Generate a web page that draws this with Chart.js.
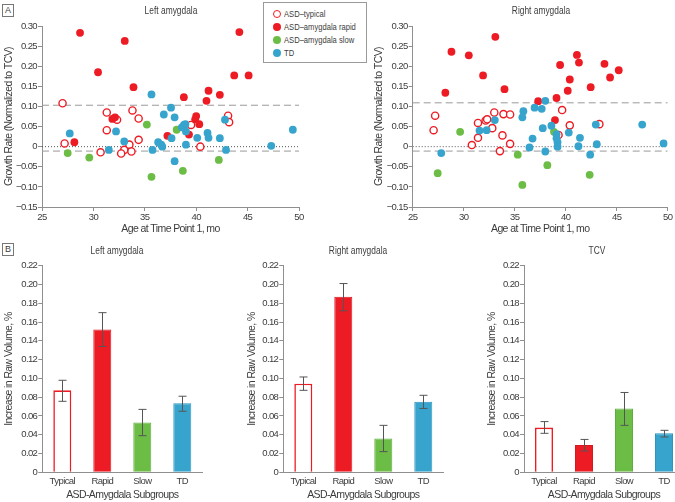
<!DOCTYPE html>
<html>
<head>
<meta charset="utf-8">
<script src="https://cdn.jsdelivr.net/npm/chart.js@4.4.0/dist/chart.umd.min.js"></script>
<style>
    body {
        margin: 0;
        width: 675px;
        height: 502px;
        overflow: hidden;
        position: relative;
        background: #fff;
        font-family: "Liberation Sans", Arial, sans-serif;
        color: #3c3c3c;
    }
    canvas { position: absolute; }
    .panel-tag {
        position: absolute;
        width: 10px;
        height: 11px;
        border: 1px solid #777;
        font-size: 9px;
        line-height: 11px;
        text-align: center;
        background: #fff;
        z-index: 2;
    }
    .title {
        position: absolute;
        font-size: 10.5px;
        transform: translate(-50%, -50%) scaleX(0.8);
        white-space: nowrap;
        z-index: 2;
    }
    #legend {
        position: absolute;
        left: 263px;
        top: 2px;
        width: 102px;
        height: 59px;
        border: 1px solid #9a9a9a;
        background: #fff;
        z-index: 2;
    }
    .leg-item {
        position: absolute;
        left: 9px;
        font-size: 9.5px;
        line-height: 10px;
        white-space: nowrap;
    }
    .leg-dot {
        position: absolute;
        left: 0;
        top: 1px;
        width: 8px;
        height: 8px;
        border-radius: 50%;
        box-sizing: border-box;
    }
    .leg-text {
        position: absolute;
        left: 11px;
        top: 0;
        transform: scaleX(0.8);
        transform-origin: left center;
    }
</style>
</head>
<body>

<div class="panel-tag" style="left:2px; top:4px;">A</div>
<div class="panel-tag" style="left:2px; top:243px;">B</div>

<div class="title" style="left:171px; top:10px;">Left amygdala</div>
<div class="title" style="left:541px; top:10px;">Right amygdala</div>
<div class="title" style="left:117px; top:250px;">Left amygdala</div>
<div class="title" style="left:358px; top:250px;">Right amygdala</div>
<div class="title" style="left:597px; top:250px;">TCV</div>

<div id="legend">
    <div class="leg-item" style="top:6px;"><span class="leg-dot" style="border:1.5px solid #ed1c24; background:#fff;"></span><span class="leg-text">ASD–typical</span></div>
    <div class="leg-item" style="top:19px;"><span class="leg-dot" style="background:#ed1c24;"></span><span class="leg-text">ASD–amygdala rapid</span></div>
    <div class="leg-item" style="top:32px;"><span class="leg-dot" style="background:#6cbd45;"></span><span class="leg-text">ASD–amygdala slow</span></div>
    <div class="leg-item" style="top:45px;"><span class="leg-dot" style="background:#37a4cd;"></span><span class="leg-text">TD</span></div>
</div>

<canvas id="leftScatter" width="330" height="240" style="left:0; top:0;"></canvas>
<canvas id="rightScatter" width="345" height="240" style="left:330px; top:0;"></canvas>
<canvas id="leftBar" width="225" height="262" style="left:0; top:240px;"></canvas>
<canvas id="rightBar" width="225" height="262" style="left:225px; top:240px;"></canvas>
<canvas id="tcvBar" width="250" height="262" style="left:445px; top:240px;"></canvas>

<script>
/* ---------- DATA ---------- */
// Scatter: [age at time point 1 (mo), growth rate]
const leftTypical = [
    [27.0, 0.108], [27.2, 0.008], [31.3, 0.085], [31.3, 0.041], [30.7, -0.014],
    [32.3, 0.067], [33.0, -0.008], [32.7, -0.017], [33.5, 0.005], [33.7, -0.012],
    [33.8, 0.090], [34.4, 0.070], [34.4, 0.017], [39.5, 0.054], [40.4, 0.000],
    [43.1, 0.077], [43.2, 0.061]
];
const leftRapid = [
    [28.7, 0.283], [33.05, 0.263], [30.45, 0.185], [33.9, 0.148], [28.15, 0.011],
    [31.85, 0.069], [32.1, 0.073], [38.8, 0.123], [41.2, 0.139], [41.0, 0.114],
    [42.3, 0.129], [44.2, 0.285], [43.7, 0.177], [45.1, 0.177], [40.0, 0.076],
    [39.9, 0.068], [40.3, 0.056], [37.2, 0.027], [39.3, 0.030]
];
const leftSlow = [
    [27.5, -0.016], [29.6, -0.027], [35.2, 0.055], [35.65, -0.075], [38.1, 0.042],
    [38.7, -0.060], [42.2, -0.033]
];
const leftTD = [
    [27.7, 0.033], [31.5, -0.008], [32.2, 0.038], [33.0, 0.013], [35.65, 0.130],
    [35.75, -0.008], [36.3, 0.011], [36.6, 0.005], [36.7, 0.000], [36.85, 0.080],
    [37.55, 0.097], [37.6, 0.021], [37.9, 0.073], [37.9, -0.036], [38.6, 0.048],
    [38.8, 0.054], [38.95, 0.056], [39.0, 0.038], [39.0, 0.005], [40.1, 0.022],
    [41.1, 0.034], [41.2, 0.022], [42.3, 0.021], [42.8, 0.067], [42.9, -0.008],
    [47.3, 0.002], [49.4, 0.042]
];

const rightTypical = [
    [27.2, 0.077], [27.05, 0.041], [30.8, 0.004], [31.4, 0.059], [31.4, 0.022],
    [32.15, 0.065], [32.3, 0.068], [32.8, 0.046], [33.0, 0.085], [33.55, -0.011],
    [33.8, 0.028], [33.9, 0.081], [34.55, 0.080], [34.55, 0.007], [39.65, 0.091],
    [40.4, 0.053], [39.3, 0.029], [43.3, 0.056]
];
const rightRapid = [
    [28.2, 0.134], [28.8, 0.236], [30.5, 0.227], [31.9, 0.177], [33.1, 0.273],
    [34.0, 0.143], [37.3, 0.113], [38.95, 0.066], [39.45, 0.203], [39.1, 0.121],
    [40.2, 0.139], [40.4, 0.167], [41.1, 0.228], [41.3, 0.209], [42.45, 0.148],
    [43.8, 0.206], [44.35, 0.172], [45.2, 0.190]
];
const rightSlow = [
    [29.65, 0.037], [27.45, -0.066], [35.3, -0.020], [35.75, -0.095], [38.2, -0.046],
    [38.85, 0.037], [42.35, -0.070]
];
const rightTD = [
    [27.8, -0.016], [31.55, 0.040], [32.25, 0.041], [33.05, 0.066], [35.75, 0.073],
    [35.85, 0.088], [36.45, -0.002], [36.75, 0.020], [36.95, 0.097], [37.65, 0.094],
    [37.75, 0.046], [38.0, 0.114], [38.0, -0.012], [38.6, 0.052], [39.1, 0.031],
    [39.1, 0.021], [39.2, 0.011], [39.2, 0.000], [40.3, 0.035], [41.25, 0.001],
    [41.4, 0.022], [42.4, -0.020], [42.95, 0.055], [43.05, 0.006], [47.5, 0.055],
    [49.6, 0.008]
];

const ageRange = [25, 50];
const leftCutoffs = [0.103, -0.011];
const rightCutoffs = [0.109, -0.011];

// Bars: Typical, Rapid, Slow, TD
const subgroups = ["Typical", "Rapid", "Slow", "TD"];
const leftMeans = [0.0873, 0.152, 0.053, 0.0735];
const leftLow   = [0.0756, 0.134, 0.039, 0.065];
const leftHigh  = [0.098, 0.170, 0.067, 0.081];
const rightMeans = [0.0944, 0.187, 0.036, 0.075];
const rightLow   = [0.0873, 0.172, 0.022, 0.068];
const rightHigh  = [0.1015, 0.201, 0.050, 0.082];
const tcvMeans = [0.0476, 0.029, 0.068, 0.0415];
const tcvLow   = [0.0415, 0.0227, 0.050, 0.0376];
const tcvHigh  = [0.054, 0.035, 0.085, 0.0447];


/* ---------- STYLE ---------- */
const RED = "#ed1c24";
const GREEN = "#6cbd45";
const BLUE = "#37a4cd";
const AXIS = "#8f8f8f";
const TEXT = "#3c3c3c";

Chart.defaults.font.family = "'Liberation Sans', Arial, sans-serif";
Chart.defaults.color = TEXT;
Chart.defaults.animation = false;

// the original uses a condensed face; tighten the canvas text instead
Chart.register({
    id: "tightText",
    beforeUpdate(chart) { chart.ctx.letterSpacing = "-0.6px"; },
    beforeDraw(chart) { chart.ctx.letterSpacing = "-0.6px"; }
});

function fmtTick(v) {
    if (Math.abs(v) < 1e-9) return "0";
    const s = Math.abs(v).toFixed(2);
    return v < 0 ? "\u2212" + s : s;
}

function toPoints(list) {
    return list.map(p => ({ x: p[0], y: p[1] }));
}


/* ---------- SCATTER ---------- */
function makeScatter(id, typical, rapid, slow, td, cutoffs, pad, yWidth) {
    const ctx = document.getElementById(id).getContext("2d");
    const canvasH = ctx.canvas.height;

    const cutLines = cutoffs.map(c => ({
        type: "line",
        data: ageRange.map(a => ({ x: a, y: c })),
        borderColor: "#9a9a9a",
        borderWidth: 1,
        borderDash: [7, 4],
        pointRadius: 0,
        order: 10
    }));

    const zeroLine = {
        type: "line",
        data: ageRange.map(a => ({ x: a, y: 0 })),
        borderColor: "#555",
        borderWidth: 1,
        borderDash: [1, 2],
        pointRadius: 0,
        order: 9
    };

    new Chart(ctx, {
        type: "scatter",
        data: {
            datasets: [
                ...cutLines,
                zeroLine,
                { data: toPoints(typical), pointRadius: 3.6, borderWidth: 1.4,
                  borderColor: RED, backgroundColor: "#fff", order: 4 },
                { data: toPoints(rapid), pointRadius: 3.9, borderWidth: 0,
                  backgroundColor: RED, order: 3 },
                { data: toPoints(slow), pointRadius: 3.9, borderWidth: 0,
                  backgroundColor: GREEN, order: 2 },
                { data: toPoints(td), pointRadius: 3.9, borderWidth: 0,
                  backgroundColor: BLUE, order: 1 }
            ]
        },
        options: {
            responsive: false,
            layout: { padding: pad },
            plugins: { legend: { display: false }, tooltip: { enabled: false } },
            scales: {
                x: {
                    type: "linear",
                    min: ageRange[0],
                    max: ageRange[1],
                    ticks: { stepSize: 5, font: { size: 9.5 }, padding: 1, color: TEXT },
                    grid: { drawOnChartArea: false, tickLength: 4, color: AXIS },
                    border: { color: AXIS },
                    title: { display: true, text: "Age at Time Point 1, mo",
                             font: { size: 10.5 }, color: TEXT, padding: { top: 0, bottom: 5 } },
                    afterFit: s => { s.height = canvasH - 207 - pad.bottom; }
                },
                y: {
                    min: -0.15,
                    max: 0.30,
                    ticks: { stepSize: 0.05, font: { size: 9.5 }, padding: 1, color: TEXT,
                             callback: v => fmtTick(v) },
                    grid: { drawOnChartArea: false, tickLength: 4, color: AXIS },
                    border: { color: AXIS },
                    title: { display: true, text: "Growth Rate (Normalized to TCV)",
                             font: { size: 10.5 }, color: TEXT, padding: { top: 2.4, bottom: 0 } },
                    afterFit: s => { s.width = yWidth; }
                }
            }
        }
    });
}


/* ---------- BAR + ERROR BARS ---------- */
const errorBars = {
    id: "errorBars",
    afterDatasetsDraw(chart, args, opts) {
        const meta = chart.getDatasetMeta(0);
        const yScale = chart.scales.y;
        const c = chart.ctx;
        c.save();
        c.strokeStyle = "#555";
        c.lineWidth = 1;
        meta.data.forEach((bar, i) => {
            const x = Math.round(bar.x) + 0.5;
            const yHi = yScale.getPixelForValue(opts.high[i]);
            const yLo = yScale.getPixelForValue(opts.low[i]);
            c.beginPath();
            c.moveTo(x, yHi);
            c.lineTo(x, yLo);
            c.moveTo(x - 4, yHi);
            c.lineTo(x + 4, yHi);
            c.moveTo(x - 4, yLo);
            c.lineTo(x + 4, yLo);
            c.stroke();
        });
        c.restore();
    }
};

function makeBar(id, means, low, high, pad, yWidth) {
    const ctx = document.getElementById(id).getContext("2d");
    const canvasH = ctx.canvas.height;

    new Chart(ctx, {
        type: "bar",
        data: {
            labels: subgroups,
            datasets: [{
                data: means,
                backgroundColor: ["#fff", RED, GREEN, BLUE],
                borderColor: [RED, "#d81820", "#5fae3c", "#2f95bd"],
                borderWidth: [1.6, 1, 1, 1],
                barPercentage: 0.45,
                categoryPercentage: 1
            }]
        },
        options: {
            responsive: false,
            layout: { padding: pad },
            plugins: {
                legend: { display: false },
                tooltip: { enabled: false },
                errorBars: { low: low, high: high }
            },
            scales: {
                x: {
                    ticks: { font: { size: 9.5 }, padding: 3, color: TEXT },
                    grid: { display: false, drawTicks: false },
                    border: { display: true, color: AXIS },
                    title: { display: true, text: "ASD-Amygdala Subgroups",
                             font: { size: 10.5 }, color: TEXT, padding: { top: 0, bottom: 0.5 } },
                    afterFit: s => { s.height = canvasH - 232.3 - pad.bottom; }
                },
                y: {
                    min: 0,
                    max: 0.22,
                    ticks: { stepSize: 0.02, font: { size: 9.5 }, padding: 1, color: TEXT,
                             callback: v => fmtTick(v) },
                    grid: { drawOnChartArea: false, tickLength: 4, color: AXIS },
                    border: { color: AXIS },
                    title: { display: true, text: "Increase in Raw Volume, %",
                             font: { size: 10.5 }, color: TEXT, padding: { top: 2.4, bottom: 0 } },
                    afterFit: s => { s.width = yWidth; }
                }
            }
        },
        plugins: [errorBars]
    });
}


/* ---------- BUILD ---------- */
makeScatter("leftScatter", leftTypical, leftRapid, leftSlow, leftTD, leftCutoffs,
    { top: 26, right: 31, bottom: 0, left: 0 }, 42);
makeScatter("rightScatter", rightTypical, rightRapid, rightSlow, rightTD, rightCutoffs,
    { top: 26, right: 7.3, bottom: 0, left: 40 }, 42.7);

makeBar("leftBar", leftMeans, leftLow, leftHigh,
    { top: 25.7, right: 22.7, bottom: 0, left: 0 }, 42.3);
makeBar("rightBar", rightMeans, rightLow, rightHigh,
    { top: 25.7, right: 6.7, bottom: 0, left: 18 }, 40.3);
makeBar("tcvBar", tcvMeans, tcvLow, tcvHigh,
    { top: 25.7, right: 11, bottom: 0, left: 38 }, 41);
</script>
</body>
</html>
